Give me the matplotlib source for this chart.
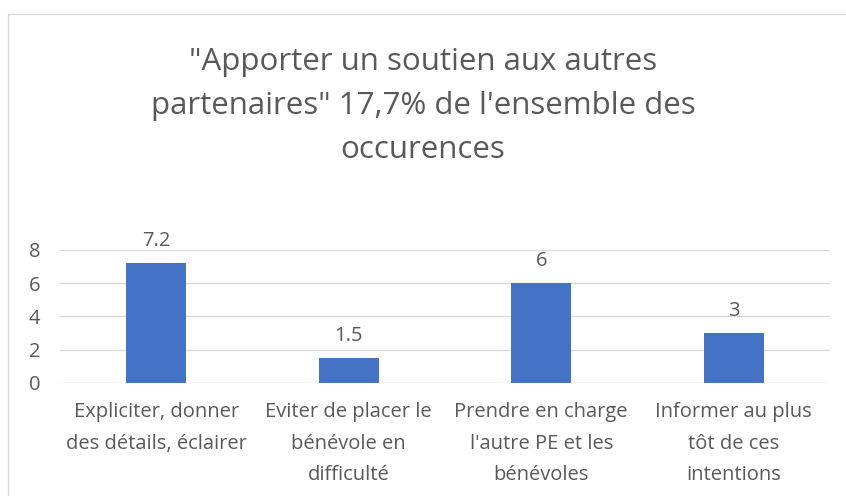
import matplotlib
matplotlib.use('Agg')
import matplotlib.pyplot as plt
from matplotlib.patches import Rectangle

plt.rcParams['font.family'] = ['Open Sans', 'DejaVu Sans']

categories = ["Expliciter, donner\ndes détails, éclairer",
              "Eviter de placer le\nbénévole en\ndifficulté",
              "Prendre en charge\nl'autre PE et les\nbénévoles",
              "Informer au plus\ntôt de ces\nintentions"]
values = [7.2, 1.5, 6, 3]
value_labels = ["7.2", "1.5", "6", "3"]
yticks = [0, 2, 4, 6, 8]

fig = plt.figure(figsize=(8.46, 4.96), dpi=100)
ax = fig.add_axes([0.071, 0.228, 0.91, 0.268])

grey = '#595959'
x = list(range(len(categories)))
bars = ax.bar(x, values, width=0.31, color='#4472c4', zorder=3)
for b, lab in zip(bars, value_labels):
    ax.text(b.get_x() + b.get_width() / 2, b.get_height() + 0.75, lab,
            ha='center', va='bottom', fontsize=14.5, color=grey)

ax.set_xlim(-0.5, len(categories) - 0.5)
ax.set_ylim(0, 8)
ax.set_yticks(yticks)
ax.set_xticks(x)
ax.set_xticklabels(categories, fontsize=14.5, color=grey, linespacing=1.75)
ax.tick_params(axis='y', labelsize=14.5, labelcolor=grey, length=0, pad=14)
ax.tick_params(axis='x', length=0, pad=14)
ax.grid(axis='y', color='#d9d9d9', linewidth=1, zorder=0)
for s in ax.spines.values():
    s.set_visible(False)

fig.text(0.5, 0.786, "\"Apporter un soutien aux autres\npartenaires\" 17,7% de l'ensemble des\noccurences",
         ha='center', va='center', fontsize=22.5, color=grey, linespacing=1.6)

fig.patches.append(Rectangle((8 / 846, -0.1), 1.0, 1 - 14 / 496 + 0.1,
                             transform=fig.transFigure, fill=False,
                             edgecolor='#d9d9d9', linewidth=1))

fig.savefig('out.png', dpi=100)
